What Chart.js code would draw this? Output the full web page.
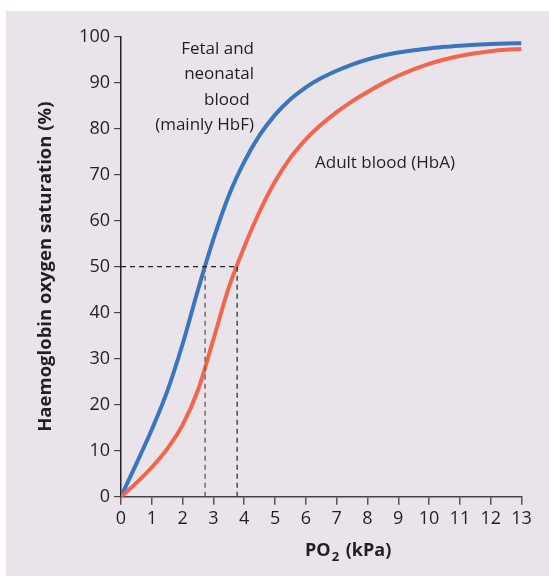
<!DOCTYPE html>
<html>
<head>
<meta charset="utf-8">
<script src="https://cdn.jsdelivr.net/npm/chart.js@4"></script>
<style>
  html, body { margin: 0; padding: 0; background: #fff; }
  #panel { position: absolute; left: 6px; top: 11px; width: 543px; height: 565px; background: #e9e4ea; }
</style>
</head>
<body>
<div id="panel"><canvas id="chart" width="543" height="565"></canvas></div>
<script>
const pressure = [0, 0.5, 1, 1.5, 2, 2.5, 3, 3.5, 4, 4.5, 5, 5.5, 6, 6.5, 7, 7.5, 8, 8.5, 9, 9.5, 10, 10.5, 11, 11.5, 12, 12.5, 13];
const fetal = [0, 7.2, 14.6, 22.9, 33.2, 45.0, 56.0, 65.5, 72.8, 78.6, 83.0, 86.4, 89.0, 91.0, 92.6, 93.95, 95.05, 95.9, 96.55, 97.05, 97.45, 97.8, 98.05, 98.25, 98.42, 98.53, 98.6];
const adult = [0, 3, 6.4, 10.4, 15.6, 23.2, 34.2, 45.5, 54.3, 62.0, 68.5, 73.7, 77.7, 80.9, 83.6, 85.95, 88.0, 89.85, 91.5, 92.9, 94.1, 95.05, 95.8, 96.4, 96.85, 97.15, 97.3];

const p50Fetal = 2.73;
const p50Adult = 3.77;

const fetalLabel = ["Fetal and", "neonatal", "blood ", "(mainly HbF)"];
const adultLabel = "Adult blood (HbA)";

const textColor = "#231f20";
const font = "'Open Sans', sans-serif";

const toPoints = ys => pressure.map((x, i) => ({ x: x, y: ys[i] }));

// annotations and the PO2 axis title (needs a subscript)
const labels = {
  id: "labels",
  afterDraw(c) {
    const ctx = c.ctx;
    const a = c.chartArea;
    ctx.save();
    ctx.fillStyle = textColor;
    ctx.font = "17px " + font;
    ctx.textAlign = "right";
    ctx.textBaseline = "alphabetic";
    fetalLabel.forEach((t, i) => ctx.fillText(t, a.left + 133, a.top + 17 + i * 25.5));
    ctx.textAlign = "left";
    ctx.fillText(adultLabel, a.left + 194, a.top + 131);

    ctx.font = "bold 18px " + font;
    let x = a.left + 184;
    const y = a.bottom + 59;
    ctx.fillText("PO", x, y);
    x += ctx.measureText("PO").width + 1;
    ctx.font = "bold 13px " + font;
    ctx.fillText("2", x, y + 5);
    x += ctx.measureText("2").width + 2;
    ctx.font = "bold 18px " + font;
    ctx.fillText(" (kPa)", x, y);
    ctx.restore();
  }
};

new Chart(document.getElementById("chart"), {
  type: "line",
  data: {
    datasets: [
      {
        data: [{ x: 0, y: 50 }, { x: p50Adult, y: 50 }],
        borderColor: "#222",
        borderWidth: 1.2,
        borderDash: [5, 4],
        pointRadius: 0
      },
      {
        data: [{ x: p50Fetal, y: 50 }, { x: p50Fetal, y: 0 }],
        borderColor: "#6e6a6e",
        borderWidth: 1.5,
        borderDash: [5, 4],
        pointRadius: 0
      },
      {
        data: [{ x: p50Adult, y: 50 }, { x: p50Adult, y: 0 }],
        borderColor: "#222",
        borderWidth: 1.2,
        borderDash: [5, 4],
        pointRadius: 0
      },
      {
        label: "Adult blood (HbA)",
        data: toPoints(adult),
        borderColor: "#f4654d",
        borderWidth: 4,
        pointRadius: 0,
        cubicInterpolationMode: "monotone"
      },
      {
        label: "Fetal and neonatal blood",
        data: toPoints(fetal),
        borderColor: "#3a76bf",
        borderWidth: 4,
        pointRadius: 0,
        cubicInterpolationMode: "monotone"
      }
    ]
  },
  options: {
    responsive: false,
    animation: false,
    layout: { padding: { left: 29, right: 27.5, top: 25.7, bottom: 0 } },
    plugins: {
      legend: { display: false },
      tooltip: { enabled: false }
    },
    scales: {
      x: {
        type: "linear",
        min: 0,
        max: 13,
        ticks: { stepSize: 1, color: textColor, font: { family: font, size: 18 }, padding: 3, maxRotation: 0 },
        grid: { drawOnChartArea: false, drawTicks: true, tickLength: 8, color: "#555", lineWidth: 1.5 },
        border: { color: "#444", width: 1.5 },
        afterFit: s => { s.height = 79.3; }
      },
      y: {
        min: 0,
        max: 100,
        ticks: { stepSize: 10, color: textColor, font: { family: font, size: 18 }, padding: 4 },
        grid: { drawOnChartArea: false, drawTicks: true, tickLength: 7, color: "#444", lineWidth: 1.2 },
        border: { color: "#222", width: 1.5 },
        title: {
          display: true,
          text: "Haemoglobin oxygen saturation (%)",
          color: textColor,
          font: { family: font, size: 18.5, weight: "bold" },
          padding: 0
        },
        afterFit: s => { s.width = 86; }
      }
    }
  },
  plugins: [labels]
});
</script>
</body>
</html>
